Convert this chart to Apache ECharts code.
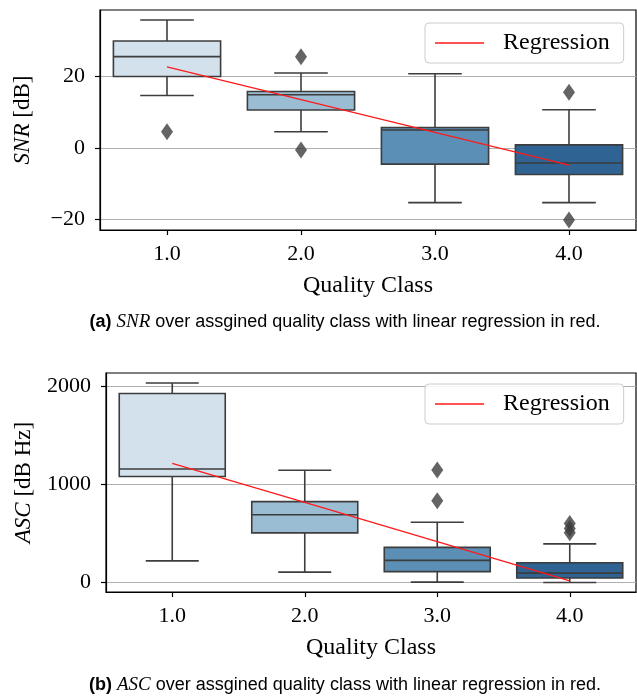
<!DOCTYPE html>
<html><head><meta charset="utf-8">
<script src="https://cdn.jsdelivr.net/npm/echarts@6/dist/echarts.min.js"></script>
<style>html,body{margin:0;padding:0;background:#fff;} #c{width:637px;height:697px;}</style>
</head><body><div id="c"></div>
<script>
// ---- data ----
const categories = ['1.0', '2.0', '3.0', '4.0'];

const snrMin = [14.7, 4.5, -15.4, -15.4];
const snrQ1 = [20.0, 10.6, -4.6, -7.5];
const snrMedian = [25.6, 14.9, 5.0, -4.3];
const snrQ3 = [30.0, 15.8, 5.7, 0.8];
const snrMax = [35.9, 21.0, 20.8, 10.7];
const snrOutliers = [[0, 4.5], [1, 25.6], [1, -0.6], [3, 15.6], [3, -20.3]];
const snrRegression = [22.7, 13.5, 4.3, -4.9];
const snrTicks = [-20, 0, 20];

const ascMin = [220, 105, 4, 0];
const ascQ1 = [1078, 505, 110, 45];
const ascMedian = [1155, 690, 225, 95];
const ascQ3 = [1923, 823, 357, 201];
const ascMax = [2030, 1142, 613, 393];
const ascOutliers = [[2, 1144], [2, 832], [3, 600], [3, 550], [3, 505]];
const ascRegression = [1212, 814, 415, 17];
const ascTicks = [0, 1000, 2000];

// ---- styles ----
const boxColors = ['#d3e1ed', '#9bbdd3', '#5b8fb6', '#2f6393'];
const edge = '#3d3d3d';
const serif = 'Liberation Serif';
const sans = 'Liberation Sans';

function boxData(mn, q1, md, q3, mx) {
  return categories.map((c, i) => [i, mn[i], q1[i], md[i], q3[i], mx[i]]);
}

function renderBox(params, api) {
  const i = api.value(0);
  const band = api.size([1, 0])[0];
  const w = band * 0.8, hw = w / 2, cw = w / 4;
  const x = api.coord([i, api.value(3)])[0];
  const yMin = api.coord([i, api.value(1)])[1];
  const yQ1 = api.coord([i, api.value(2)])[1];
  const yMed = api.coord([i, api.value(3)])[1];
  const yQ3 = api.coord([i, api.value(4)])[1];
  const yMax = api.coord([i, api.value(5)])[1];
  const ls = { stroke: edge, lineWidth: 1.6 };
  return {
    type: 'group',
    children: [
      { type: 'line', shape: { x1: x, y1: yQ1, x2: x, y2: yMin }, style: ls },
      { type: 'line', shape: { x1: x, y1: yQ3, x2: x, y2: yMax }, style: ls },
      { type: 'line', shape: { x1: x - cw, y1: yMin, x2: x + cw, y2: yMin }, style: ls },
      { type: 'line', shape: { x1: x - cw, y1: yMax, x2: x + cw, y2: yMax }, style: ls },
      { type: 'rect', shape: { x: x - hw, y: yQ3, width: w, height: yQ1 - yQ3 },
        style: { fill: boxColors[i], stroke: edge, lineWidth: 1.6 } },
      { type: 'line', shape: { x1: x - hw, y1: yMed, x2: x + hw, y2: yMed }, style: ls }
    ]
  };
}

function xAxis(gridIndex) {
  return {
    type: 'category', gridIndex, data: categories, boundaryGap: true,
    name: 'Quality Class', nameLocation: 'middle', nameGap: 44,
    nameTextStyle: { fontFamily: serif, fontSize: 24, color: '#000' },
    axisLine: { show: true, onZero: false, lineStyle: { color: '#000', width: 1.2 } },
    axisTick: { show: true, alignWithLabel: true, length: 5, lineStyle: { color: '#000', width: 1.2 } },
    axisLabel: { margin: 13, fontFamily: serif, fontSize: 22, color: '#000' },
    splitLine: { show: false }
  };
}

function yAxis(gridIndex, min, max, ticks, name, gap) {
  return {
    type: 'value', gridIndex, min, max,
    name, nameLocation: 'middle', nameGap: gap, nameRotate: 90,
    nameTextStyle: { fontFamily: serif, fontSize: 23, color: '#000',
      rich: { i: { fontFamily: serif, fontStyle: 'italic', fontSize: 23, color: '#000' } } },
    axisLine: { show: true, onZero: false, lineStyle: { color: '#000', width: 1.2 } },
    axisTick: { show: true, length: 5, customValues: ticks, lineStyle: { color: '#000', width: 1.2 } },
    axisLabel: { customValues: ticks, margin: 15, fontFamily: serif, fontSize: 22, color: '#000',
      formatter: v => v < 0 ? '\u2212' + Math.abs(v) : String(v) },
    splitLine: { show: true, lineStyle: { color: '#b0b0b0', width: 1.2 } }
  };
}

function legend(top) {
  return {
    left: 425, top, orient: 'horizontal',
    data: [{ name: 'Regression', icon: 'rect' }],
    itemWidth: 49, itemHeight: 1.5, padding: [8, 14, 8, 10],
    backgroundColor: 'rgba(255,255,255,0.85)', borderColor: '#cccccc', borderWidth: 1, borderRadius: 4,
    textStyle: { fontFamily: serif, fontSize: 24, color: '#000', padding: [0, 0, 0, 14] }
  };
}

const option = {
  animation: false,
  backgroundColor: '#fff',
  grid: [
    { left: 100, top: 10, width: 536, height: 220, show: true, borderColor: '#000', borderWidth: 1.2, outerBoundsMode: 'none' },
    { left: 106, top: 373, width: 530, height: 219, show: true, borderColor: '#000', borderWidth: 1.2, outerBoundsMode: 'none' }
  ],
  xAxis: [xAxis(0), xAxis(1)],
  yAxis: [
    yAxis(0, -23.1, 38.7, snrTicks, '{i|SNR} [dB]', 66),
    yAxis(1, -97, 2132, ascTicks, '{i|ASC} [dB Hz]', 71)
  ],
  legend: [legend(23), legend(384)],
  series: [
    { type: 'custom', xAxisIndex: 0, yAxisIndex: 0, z: 2, renderItem: renderBox,
      encode: { x: 0, y: [1, 2, 3, 4, 5] },
      data: boxData(snrMin, snrQ1, snrMedian, snrQ3, snrMax) },
    { type: 'scatter', xAxisIndex: 0, yAxisIndex: 0, z: 3, symbol: 'diamond', symbolSize: [12, 17],
      itemStyle: { color: edge }, data: snrOutliers },
    { type: 'line', name: 'Regression', xAxisIndex: 0, yAxisIndex: 0, z: 5, symbol: 'none',
      lineStyle: { color: '#ff1a1a', width: 1.3 }, itemStyle: { color: '#ff1a1a' }, data: snrRegression },

    { type: 'custom', xAxisIndex: 1, yAxisIndex: 1, z: 2, renderItem: renderBox,
      encode: { x: 0, y: [1, 2, 3, 4, 5] },
      data: boxData(ascMin, ascQ1, ascMedian, ascQ3, ascMax) },
    { type: 'scatter', xAxisIndex: 1, yAxisIndex: 1, z: 3, symbol: 'diamond', symbolSize: [12, 17],
      itemStyle: { color: edge }, data: ascOutliers },
    { type: 'line', name: 'Regression', xAxisIndex: 1, yAxisIndex: 1, z: 5, symbol: 'none',
      lineStyle: { color: '#ff1a1a', width: 1.3 }, itemStyle: { color: '#ff1a1a' }, data: ascRegression }
  ],
  graphic: [
    { type: 'text', x: 345, y: 322, style: {
        text: '{b|(a)} {i|SNR} over assgined quality class with linear regression in red.',
        fontFamily: sans, fontSize: 18, fill: '#000', align: 'center', verticalAlign: 'middle',
        rich: { b: { fontFamily: sans, fontWeight: 'bold', fontSize: 18 },
                i: { fontFamily: serif, fontStyle: 'italic', fontSize: 19 } } } },
    { type: 'text', x: 345, y: 685, style: {
        text: '{b|(b)} {i|ASC} over assgined quality class with linear regression in red.',
        fontFamily: sans, fontSize: 18, fill: '#000', align: 'center', verticalAlign: 'middle',
        rich: { b: { fontFamily: sans, fontWeight: 'bold', fontSize: 18 },
                i: { fontFamily: serif, fontStyle: 'italic', fontSize: 19 } } } }
  ]
};

const chart = echarts.init(document.getElementById('c'), null, { renderer: 'canvas' });
chart.setOption(option);
</script></body></html>
